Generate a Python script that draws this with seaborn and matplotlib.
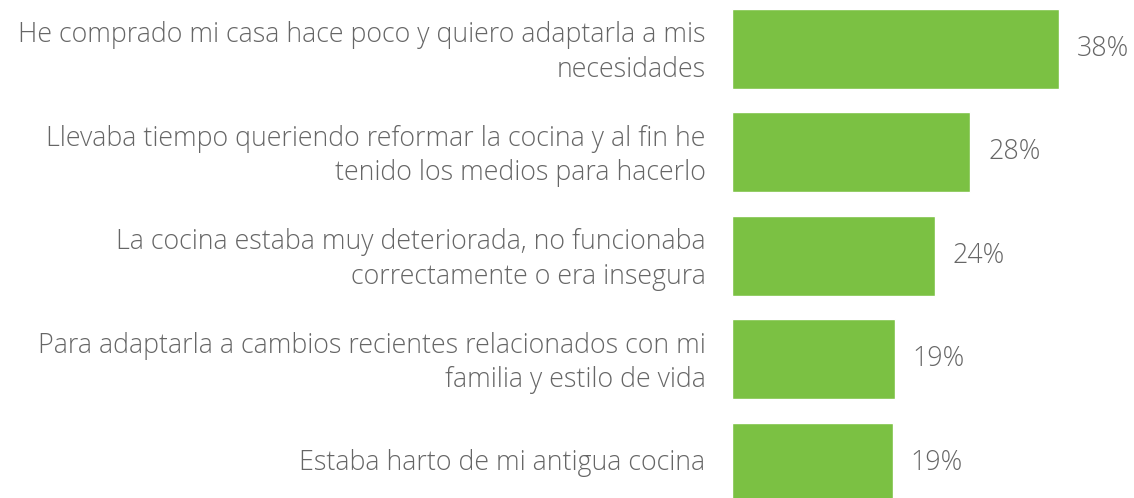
import matplotlib
matplotlib.use("Agg")
import matplotlib.pyplot as plt
import matplotlib.transforms as mtransforms
import seaborn as sns
import pandas as pd

categories = [
    "He comprado mi casa hace poco y quiero adaptarla a mis\nnecesidades",
    "Llevaba tiempo queriendo reformar la cocina y al fin he\ntenido los medios para hacerlo",
    "La cocina estaba muy deteriorada, no funcionaba\ncorrectamente o era insegura",
    "Para adaptarla a cambios recientes relacionados con mi\nfamilia y estilo de vida",
    "Estaba harto de mi antigua cocina",
]
values = [38.0, 27.7, 23.6, 18.9, 18.7]
value_labels = ["38%", "28%", "24%", "19%", "19%"]

sns.set_theme(style="white")
plt.rcParams["font.family"] = ["Open Sans", "DejaVu Sans"]

df = pd.DataFrame({"cat": categories, "val": values})

fig = plt.figure(figsize=(11.34, 4.98), dpi=100)
ax = fig.add_axes([732 / 1134, 0.0, 1 - 732 / 1134, 1.0])
sns.barplot(data=df, y="cat", x="val", orient="h", color="#7BC143",
            saturation=1, width=0.775, ax=ax)

ax.set_xlim(0, 46.75)
ax.set_ylim(4.34, -0.47)
ax.set_xlabel("")
ax.set_ylabel("")
ax.set_xticks([])
for s in ax.spines.values():
    s.set_visible(False)
ax.tick_params(axis="y", length=0, pad=19)
FS = 19.3
shift = mtransforms.ScaledTranslation(0, 3 / 100, fig.dpi_scale_trans)
for lbl in ax.get_yticklabels():
    lbl.set_fontsize(FS)
    lbl.set_color("#666666")
    lbl.set_fontweight("light")
    lbl.set_linespacing(1.32)
    lbl.set_transform(lbl.get_transform() + shift)

for i, (v, t) in enumerate(zip(values, value_labels)):
    ax.annotate(t, xy=(v, i), xytext=(13, 0), textcoords="offset points",
                va="center", ha="left", fontsize=FS, color="#666666",
                fontweight="light")

fig.savefig("out.png", dpi=100)
